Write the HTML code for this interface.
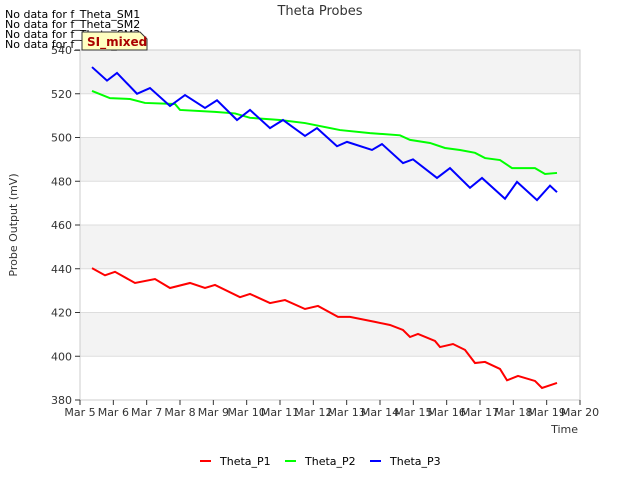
<!DOCTYPE html>
<html><head><meta charset="utf-8"><style>
body{margin:0;background:#fff;font-family:"Liberation Sans","DejaVu Sans",sans-serif;}
svg{display:block}
</style></head><body>
<svg width="640" height="480" id="chart" font-family="DejaVu Sans, Liberation Sans, sans-serif">
<rect width="640" height="480" fill="#fff"/>
<g id="bands"></g>
<rect x="80" y="50" width="500" height="350" fill="none" stroke="#ccc"/>
<g id="yaxis"></g><g id="xaxis"></g><g id="series"></g>
<text x="320" y="15" text-anchor="middle" font-size="13" fill="#333">Theta Probes</text>
<text x="17" y="225" text-anchor="middle" font-size="11" fill="#333" transform="rotate(-90 17 225)">Probe Output (mV)</text>
<text x="578" y="433" text-anchor="end" font-size="11" fill="#333">Time</text>
<g font-size="11" fill="#000">
<text x="5" y="18">No data for f_Theta_SM1</text>
<text x="5" y="28">No data for f_Theta_SM2</text>
<text x="5" y="38">No data for f_Theta_SM3</text>
<text x="5" y="48">No data for f_Theta_SM4</text>
</g>
<g>
<path d="M82 32 H140 L147 39 V50 H82 Z" fill="#ffffc0" stroke="#333" stroke-width="1"/>
<text x="87" y="46" font-size="12" font-weight="bold" fill="#a00">SI_mixed</text>
</g>
<g font-size="11" fill="#000">
<line x1="200" y1="461" x2="211" y2="461" stroke="#f00" stroke-width="2"/><text x="220" y="465">Theta_P1</text>
<line x1="285" y1="461" x2="296" y2="461" stroke="#0f0" stroke-width="2"/><text x="305" y="465">Theta_P2</text>
<line x1="370" y1="461" x2="381" y2="461" stroke="#00f" stroke-width="2"/><text x="390" y="465">Theta_P3</text>
</g>
</svg>
<script>
const yTicks=[380,400,420,440,460,480,500,520,540];
const xTickLabels=["Mar 5","Mar 6","Mar 7","Mar 8","Mar 9","Mar 10","Mar 11","Mar 12","Mar 13","Mar 14","Mar 15","Mar 16","Mar 17","Mar 18","Mar 19","Mar 20"];
const p1Days=[0.36,0.75,1.05,1.65,2.25,2.7,3.3,3.75,4.05,4.8,5.1,5.7,6.15,6.75,7.14,7.74,8.1,8.85,9.3,9.69,9.9,10.14,10.65,10.8,11.19,11.55,11.85,12.15,12.6,12.81,13.14,13.65,13.86,14.31];
const p1Vals=[440.3,437,438.6,433.5,435.3,431.2,433.5,431.2,432.6,427,428.5,424.3,425.7,421.6,423,418,418,415.7,414.3,412,408.8,410.2,407,404.2,405.6,402.9,396.9,397.4,394.2,389,391,388.7,385.5,387.8];
const p2Days=[0.36,0.9,1.5,1.95,2.85,3.0,4.05,4.65,5.1,6.0,6.75,7.8,8.7,9.6,9.9,10.5,10.95,11.4,11.85,12.15,12.6,12.96,13.65,13.95,14.31];
const p2Vals=[521.3,518,517.6,515.8,515.3,512.6,511.7,511,509,508,506.6,503.4,502,501,498.9,497.5,495.2,494.3,493,490.6,489.7,486,486,483.3,483.8];
const p3Days=[0.36,0.81,1.11,1.71,2.1,2.7,3.15,3.75,4.11,4.71,5.1,5.7,6.09,6.75,7.11,7.71,8.01,8.76,9.06,9.69,9.99,10.71,11.1,11.7,12.06,12.75,13.11,13.71,14.1,14.31];
const p3Vals=[532.2,526,529.5,520,522.6,514.4,519.4,513.5,517,508,512.6,504.3,508,500.7,504.3,496,498,494.3,497,488.3,490,481.5,486,477,481.5,472,479.7,471.4,478,475];
const X=d=>80+d*500/15, Y=v=>400-(v-380)*350/160;
const NS="http://www.w3.org/2000/svg";
function mk(t,a,p){const e=document.createElementNS(NS,t);for(const k in a)e.setAttribute(k,a[k]);p.appendChild(e);return e;}
const bands=document.getElementById('bands');
for(let i=0;i<yTicks.length-1;i++){
  const r=mk('rect',{x:80,y:Y(yTicks[i+1]),width:500,height:Y(yTicks[i])-Y(yTicks[i+1]),fill:(i%2==0)?'#fff':'#f3f3f3'},bands);
  
  
  if(i>0){const l=mk('line',{x1:80,x2:580,y1:Y(yTicks[i]),y2:Y(yTicks[i]),stroke:'#ddd'},bands);
  
  }
}
const ya=document.getElementById('yaxis');
yTicks.forEach(v=>{mk('line',{x1:75,x2:80,y1:Y(v),y2:Y(v),stroke:'#333'},ya);
  const t=mk('text',{x:72,y:Y(v)+4,'text-anchor':'end','font-size':11,fill:'#333'},ya);t.textContent=v;
  
  });
const xa=document.getElementById('xaxis');
xTickLabels.forEach((s,i)=>{mk('line',{x1:X(i),x2:X(i),y1:400,y2:405,stroke:'#333'},xa);
  const t=mk('text',{x:X(i),y:416,'text-anchor':'middle','font-size':11,fill:'#333'},xa);t.textContent=s;
  
  });
const sg=document.getElementById('series');
[[p1Days,p1Vals,'#f00','series-theta-p1'],[p2Days,p2Vals,'#0f0','series-theta-p2'],[p3Days,p3Vals,'#00f','series-theta-p3']].forEach(([d,v,c,n])=>{
  const p=mk('polyline',{points:d.map((x,i)=>X(x)+','+Y(v[i])).join(' '),fill:'none',stroke:c,'stroke-width':2},sg);
  
  
});
</script>
</body></html>
